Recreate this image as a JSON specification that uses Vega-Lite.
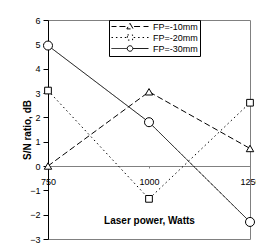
{
  "$schema": "https://vega.github.io/schema/vega-lite/v6.json",
  "width": 202,
  "height": 219,
  "autosize": {"type": "none"},
  "padding": {"left": 48, "top": 20, "right": 6, "bottom": 7},
  "background": "white",
  "config": {
    "font": "Liberation Sans",
    "view": {"stroke": "#808080", "strokeWidth": 1},
    "axis": {
      "grid": false,
      "labelFont": "Liberation Sans",
      "labelFontSize": 9,
      "labelColor": "black",
      "titleFont": "Liberation Sans",
      "titleFontSize": 10,
      "titleFontWeight": "bold",
      "titleColor": "black"
    }
  },
  "data": {
    "values": [
      {"series": "FP=-10mm", "power": 750, "sn": 0},
      {"series": "FP=-10mm", "power": 1000, "sn": 3.05},
      {"series": "FP=-10mm", "power": 1250, "sn": 0.72},
      {"series": "FP=-20mm", "power": 750, "sn": 3.1},
      {"series": "FP=-20mm", "power": 1000, "sn": -1.35},
      {"series": "FP=-20mm", "power": 1250, "sn": 2.6},
      {"series": "FP=-30mm", "power": 750, "sn": 4.95},
      {"series": "FP=-30mm", "power": 1000, "sn": 1.8},
      {"series": "FP=-30mm", "power": 1250, "sn": -2.3}
    ]
  },
  "encoding": {
    "x": {
      "field": "power",
      "type": "quantitative",
      "scale": {"domain": [750, 1250], "nice": false, "zero": false},
      "axis": {
        "values": [750, 1000, 1250],
        "format": "d",
        "offset": -73,
        "domainColor": "#808080",
        "tickColor": "#808080",
        "tickSize": 2,
        "labelPadding": 9,
        "labelFlush": false,
        "title": "Laser power, Watts",
        "titlePadding": 29
      }
    },
    "y": {
      "field": "sn",
      "type": "quantitative",
      "scale": {"domain": [-3, 6], "nice": false, "zero": false},
      "axis": {
        "values": [-3, -2, -1, 0, 1, 2, 3, 4, 5, 6],
        "domainColor": "black",
        "tickColor": "black",
        "tickSize": 5,
        "labelPadding": 3,
        "title": "S/N ratio, dB",
        "titlePadding": -3
      }
    }
  },
  "layer": [
    {
      "mark": {"type": "line", "strokeWidth": 1, "color": "black"},
      "encoding": {
        "strokeDash": {
          "field": "series",
          "type": "nominal",
          "scale": {"domain": ["FP=-10mm", "FP=-20mm", "FP=-30mm"], "range": [[6, 3], [1.5, 3], [1, 0]]},
          "legend": {
            "orient": "none",
            "legendX": 61,
            "legendY": 0,
            "title": null,
            "strokeColor": "black",
            "fillColor": "white",
            "padding": 2,
            "labelFont": "Liberation Sans",
            "labelFontSize": 9,
            "labelColor": "black",
            "labelOffset": 4,
            "rowPadding": 1,
            "clipHeight": 9,
            "symbolSize": 1369,
            "symbolStrokeWidth": 1,
            "symbolStrokeColor": "black",
            "encode": {
              "symbols": {
                "update": {
                  "shape": {"signal": "datum.value === 'FP=-10mm' ? 'M-1,0H-0.73M-0.57,0H-0.22M0,-0.17L0.17,0.13L-0.17,0.13Z M0.22,0H0.57M0.73,0H1' : datum.value === 'FP=-20mm' ? 'M-1,0h0.08M-0.76,0h0.08M-0.52,0h0.08M-0.28,0h0.08M-0.14,-0.14H0.14V0.14H-0.14Z M0.2,0h0.08M0.44,0h0.08M0.68,0h0.08M0.92,0h0.08' : 'M-1,0H-0.17M0.17,0H1M0.15,0A0.15,0.15 0 1,1 -0.15,0A0.15,0.15 0 1,1 0.15,0Z'"},
                  "strokeDash": {"value": [1, 0]},
                  "fill": {"value": "white"},
                  "stroke": {"value": "black"},
                  "opacity": {"value": 1}
                }
              }
            }
          }
        }
      }
    },
    {
      "transform": [{"filter": "datum.series === 'FP=-10mm'"}],
      "mark": {"type": "point", "shape": "triangle-up", "size": 55, "filled": true, "fill": "white", "stroke": "black", "strokeWidth": 1, "opacity": 1}
    },
    {
      "transform": [{"filter": "datum.series === 'FP=-20mm'"}],
      "mark": {"type": "point", "shape": "square", "size": 45, "filled": true, "fill": "white", "stroke": "black", "strokeWidth": 1, "opacity": 1}
    },
    {
      "transform": [{"filter": "datum.series === 'FP=-30mm'"}],
      "mark": {"type": "point", "shape": "circle", "size": 81, "filled": true, "fill": "white", "stroke": "black", "strokeWidth": 1, "opacity": 1}
    }
  ]
}
